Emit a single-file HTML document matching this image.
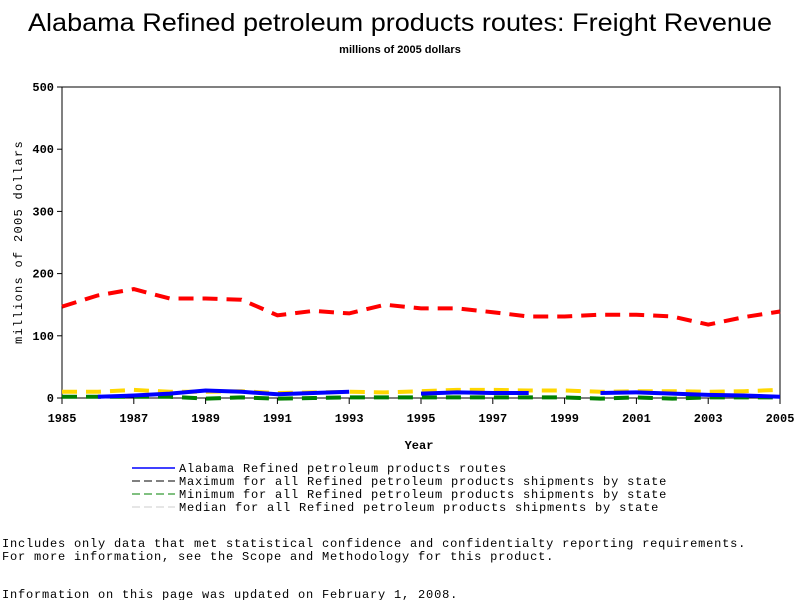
<!DOCTYPE html>
<html><head><meta charset="utf-8"><style>
body{margin:0;background:#fff;width:800px;height:600px;overflow:hidden;font-family:"Liberation Mono",monospace}
</style></head><body>
<svg width="800" height="600" xmlns="http://www.w3.org/2000/svg">
<text x="400" y="31" text-anchor="middle" font-family="Liberation Sans,sans-serif" font-size="25" textLength="744" lengthAdjust="spacingAndGlyphs">Alabama Refined petroleum products routes: Freight Revenue</text>
<text x="400" y="53" text-anchor="middle" font-family="Liberation Sans,sans-serif" font-size="11" font-weight="bold">millions of 2005 dollars</text>
<rect x="62" y="87" width="718" height="311" fill="none" stroke="#000"/>
<g id="axes" font-family="Liberation Mono,monospace" font-size="12" font-weight="bold"></g>
<g id="series"></g>
<text x="419" y="449" text-anchor="middle" font-size="12" font-weight="bold">Year</text>
<text transform="translate(22,242) rotate(-90)" text-anchor="middle" font-size="12" letter-spacing="1.3">millions of 2005 dollars</text>
<g font-size="12" letter-spacing="0.8">
<line x1="132" y1="468" x2="175" y2="468" stroke="#0000ff" stroke-width="1.5"/>
<text x="179" y="472">Alabama Refined petroleum products routes</text>
<line x1="132" y1="481" x2="175" y2="481" stroke="#000" stroke-dasharray="8,4"/>
<text x="179" y="485">Maximum for all Refined petroleum products shipments by state</text>
<line x1="132" y1="494" x2="175" y2="494" stroke="#008000" stroke-dasharray="8,4"/>
<text x="179" y="498">Minimum for all Refined petroleum products shipments by state</text>
<line x1="132" y1="507" x2="175" y2="507" stroke="#ccc" stroke-dasharray="8,4"/>
<text x="179" y="511">Median for all Refined petroleum products shipments by state</text>
</g>
<g font-size="12" letter-spacing="0.8">
<text x="2" y="547">Includes only data that met statistical confidence and confidentialty reporting requirements.</text>
<text x="2" y="560">For more information, see the Scope and Methodology for this product.</text>
<text x="2" y="598">Information on this page was updated on February 1, 2008.</text>
</g>
</svg>
<script>
const years=[1985,1986,1987,1988,1989,1990,1991,1992,1993,1994,1995,1996,1997,1998,1999,2000,2001,2002,2003,2004,2005];
const alabama=[null,2,4,7,12,10,6,8,10,null,7,9,8,8,null,8,9,7,5,4,2];
const maxVals=[147,165,175,160,160,158,133,140,136,150,144,144,138,131,131,134,134,131,118,130,139];
const medianVals=[10,10,13,10,10,11,8,9,10,9,11,13,13,12,12,10,11,11,10,11,13];
const minVals=[2,2,2,2,-1,1,-1,0,1,1,1,1,1,1,1,-1,1,-1,1,1,1];
const yTicks=[0,100,200,300,400,500];
const xTicks=[1985,1987,1989,1991,1993,1995,1997,1999,2001,2003,2005];
const NS="http://www.w3.org/2000/svg";
const xS=v=>62+(v-1985)*(718/20);
const yS=v=>398-v*(311/500);
const ax=document.getElementById('axes'),sg=document.getElementById('series');
function mk(tag,attrs,parent){const e=document.createElementNS(NS,tag);for(const k in attrs)e.setAttribute(k,attrs[k]);parent.appendChild(e);return e;}
yTicks.forEach(t=>{
 const l=mk('line',{x1:57,x2:62,y1:yS(t),y2:yS(t),stroke:'#000'},ax);
 
 
 const tx=mk('text',{x:54,y:yS(t)+4,'text-anchor':'end'},ax);tx.textContent=t;
 
 
});
xTicks.forEach(t=>{
 const l=mk('line',{x1:xS(t),x2:xS(t),y1:398,y2:404,stroke:'#000'},ax);
 
 
 const tx=mk('text',{x:xS(t),y:422,'text-anchor':'middle'},ax);tx.textContent=t;
 
 
});
function series(vals,color,dash,w,name){
 let d='',pen=false;
 vals.forEach((v,i)=>{if(v===null){pen=false;return;}d+=(pen?'L':'M')+xS(years[i]).toFixed(1)+' '+yS(v).toFixed(1)+' ';pen=true;});
 const p=mk('path',{d:d,fill:'none',stroke:color,'stroke-width':w},sg);
 if(dash)p.setAttribute('stroke-dasharray',dash);
 
 
}
series(minVals,'#008000','15,9',4,'min-line');
series(medianVals,'#ffd700','15,9',4,'median-line');
series(alabama,'#0000ff',null,4,'alabama-line');
series(maxVals,'#ff0000','15,9',4,'max-line');
</script>
</body></html>
